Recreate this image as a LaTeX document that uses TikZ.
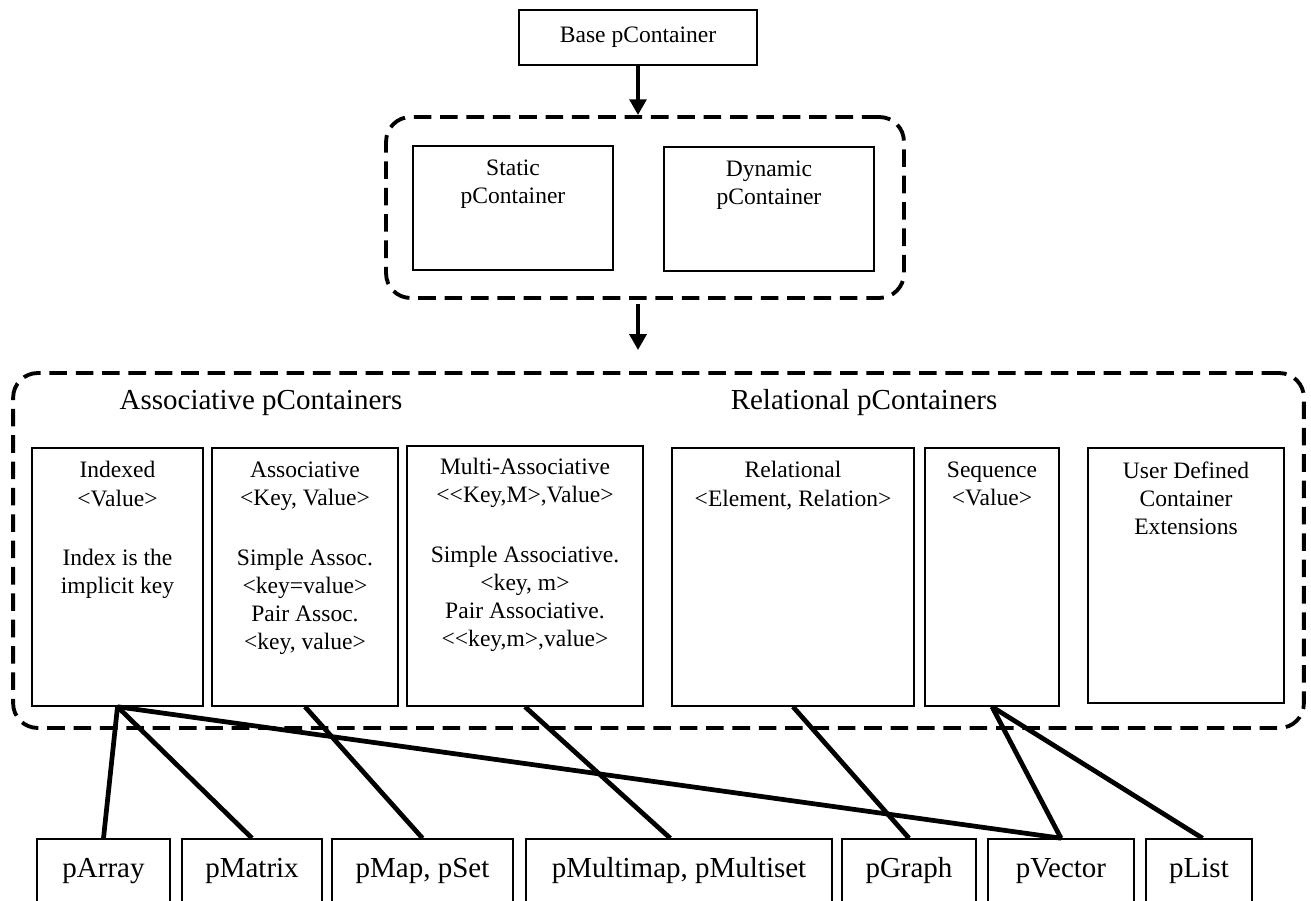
\documentclass[tikz,border=0pt]{standalone}
\usepackage{fontspec}
\setmainfont{Liberation Serif}
\usetikzlibrary{arrows.meta}

\begin{document}
\begin{tikzpicture}[x=0.02cm, y=-0.02cm,
    cbox/.style={draw, line width=0.9pt, inner sep=0pt, font=\fontsize{13.4}{16}\selectfont},
    ctext/.style={align=center, anchor=north, inner sep=0pt, font=\fontsize{13.4}{16}\selectfont},
    group/.style={draw, line width=2.2pt, dash pattern=on 10pt off 5pt, rounded corners=14pt, inner sep=0pt},
    head/.style={inner sep=0pt, font=\fontsize{16.5}{20}\selectfont},
    impl/.style={cbox, minimum height=1.28cm, font=\fontsize{16.5}{20}\selectfont},
    link/.style={line width=2.7pt},
    down/.style={-{Triangle[length=9pt,width=9.5pt]}, line width=2.2pt}]
    \useasboundingbox (0,0) rectangle (1311,901);
    \clip (0,0) rectangle (1311,901);

    % base and the two kinds
    \node[cbox, minimum width=4.76cm, minimum height=1.1cm] (base) at (638, 37.5) {Base pContainer};
    \node[group, minimum width=10.36cm, minimum height=3.62cm] (kinds) at (645, 207.5) {};
    \node[cbox, minimum width=4cm, minimum height=2.48cm] (static) at (513, 208) {};
    \node[cbox, minimum width=4.2cm, minimum height=2.48cm] (dynamic) at (769, 209) {};
    \node[ctext] (statictxt) at ([yshift=-8pt]static.north) {Static\\pContainer};
    \node[ctext] (dynamictxt) at ([yshift=-8pt]dynamic.north) {Dynamic\\pContainer};

    % container families
    \node[group, minimum width=25.82cm, minimum height=7.1cm] (family) at (658.5, 550.5) {};
    \node[head] (assochead) at (261, 403) {Associative pContainers};
    \node[head] (relhead) at (864, 403) {Relational pContainers};

    \node[cbox, minimum width=3.42cm, minimum height=5.16cm] (indexed) at (117.5, 577) {};
    \node[cbox, minimum width=3.72cm, minimum height=5.16cm] (assoc) at (305, 577) {};
    \node[cbox, minimum width=4.72cm, minimum height=5.2cm] (multi) at (525, 576) {};
    \node[cbox, minimum width=4.84cm, minimum height=5.16cm] (relational) at (793, 577) {};
    \node[cbox, minimum width=2.68cm, minimum height=5.16cm] (sequence) at (992, 577) {};
    \node[cbox, minimum width=3.92cm, minimum height=5.1cm] (user) at (1186, 575.5) {};

    \node[ctext] (indexedtxt) at ([yshift=-8pt]indexed.north) {Indexed\\<Value>\\[18pt]Index is the\\implicit key};
    \node[ctext] (assoctxt) at ([yshift=-8pt]assoc.north) {Associative\\<Key, Value>\\[18pt]Simple Assoc.\\<key=value>\\Pair Assoc.\\<key, value>};
    \node[ctext] (multitxt) at ([yshift=-7pt]multi.north) {Multi-Associative\\<{}<Key,M>,Value>\\[18pt]Simple Associative.\\<key, m>\\Pair Associative.\\<{}<key,m>,value>};
    \node[ctext] (relationaltxt) at ([yshift=-8pt]relational.north) {Relational\\<Element, Relation>};
    \node[ctext] (sequencetxt) at ([yshift=-8pt]sequence.north) {Sequence\\<Value>};
    \node[ctext] (usertxt) at ([yshift=-8pt]user.north) {User Defined\\Container\\Extensions};

    % implementations
    \node[impl, minimum width=2.66cm] (parray) at (103.5, 871) {pArray};
    \node[impl, minimum width=2.8cm] (pmatrix) at (252, 871) {pMatrix};
    \node[impl, minimum width=3.62cm] (pmap) at (422.5, 871) {pMap, pSet};
    \node[impl, minimum width=6.12cm] (pmultimap) at (679, 871) {pMultimap, pMultiset};
    \node[impl, minimum width=2.68cm] (pgraph) at (909, 871) {pGraph};
    \node[impl, minimum width=2.92cm] (pvector) at (1061, 871) {pVector};
    \node[impl, minimum width=2.12cm] (plist) at (1199, 871) {pList};

    \draw[down] (base) -- (base |- kinds.north);
    \draw[down, shorten <=2.5pt, shorten >=12pt] (base |- kinds.south) -- (base |- family.north);

    \draw[link] (indexed.south) -- (parray.north);
    \draw[link] (indexed.south) -- (pmatrix.north);
    \draw[link] (indexed.south) -- (pvector.north);
    \draw[link] (assoc.south) -- (pmap.north);
    \draw[link] (multi.south) -- ([xshift=-5pt]pmultimap.north);
    \draw[link] (relational.south) -- (pgraph.north);
    \draw[link] (sequence.south) -- (pvector.north);
    \draw[link] (sequence.south) -- ([xshift=2pt]plist.north);
\end{tikzpicture}
\end{document}
